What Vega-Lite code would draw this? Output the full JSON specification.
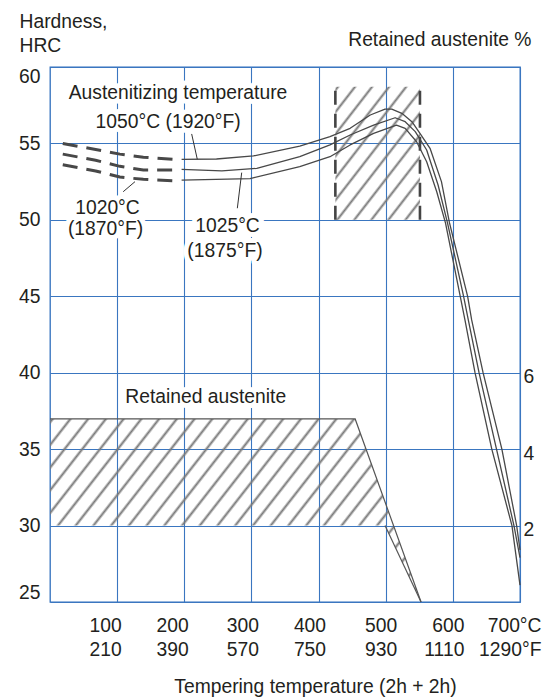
{
  "$schema": "https://vega.github.io/schema/vega-lite/v6.json",
  "width": 470,
  "height": 535,
  "autosize": {"type": "none"},
  "padding": {"left": 50, "top": 67, "right": 25, "bottom": 96},
  "background": "white",
  "config": {
    "view": {"stroke": "#2f6fbd", "strokeWidth": 1.3},
    "font": "Liberation Sans",
    "axis": {
      "labelFont": "Liberation Sans", "titleFont": "Liberation Sans",
      "labelFontSize": 19.3, "titleFontSize": 19.3, "titleFontWeight": "normal",
      "labelColor": "#231f20", "titleColor": "#231f20",
      "domain": false, "ticks": false,
      "gridColor": "#3a76c0", "gridWidth": 1.1, "gridOpacity": 1
    }
  },
  "datasets": {
    "hardness": [
      {"curve": "1050", "seg": "dashed", "t": 19, "h": 55.0},
      {"curve": "1050", "seg": "dashed", "t": 68, "h": 54.6},
      {"curve": "1050", "seg": "dashed", "t": 104, "h": 54.3},
      {"curve": "1050", "seg": "dashed", "t": 139, "h": 54.1},
      {"curve": "1050", "seg": "dashed", "t": 185, "h": 53.96},
      {"curve": "1050", "seg": "solid", "t": 196, "h": 53.96},
      {"curve": "1050", "seg": "solid", "t": 248, "h": 53.98},
      {"curve": "1050", "seg": "solid", "t": 303, "h": 54.18},
      {"curve": "1050", "seg": "solid", "t": 372, "h": 54.83},
      {"curve": "1050", "seg": "solid", "t": 417, "h": 55.44},
      {"curve": "1050", "seg": "solid", "t": 447, "h": 55.99},
      {"curve": "1050", "seg": "solid", "t": 477, "h": 56.86},
      {"curve": "1050", "seg": "solid", "t": 499, "h": 57.25},
      {"curve": "1050", "seg": "solid", "t": 509, "h": 57.25},
      {"curve": "1050", "seg": "solid", "t": 524, "h": 56.97},
      {"curve": "1050", "seg": "solid", "t": 539, "h": 56.42},
      {"curve": "1050", "seg": "solid", "t": 551, "h": 55.66},
      {"curve": "1050", "seg": "solid", "t": 566, "h": 54.68},
      {"curve": "1050", "seg": "solid", "t": 583, "h": 52.5},
      {"curve": "1050", "seg": "solid", "t": 595, "h": 49.8},
      {"curve": "1050", "seg": "solid", "t": 622, "h": 45.0},
      {"curve": "1050", "seg": "solid", "t": 628, "h": 43.45},
      {"curve": "1050", "seg": "solid", "t": 645, "h": 40.0},
      {"curve": "1050", "seg": "solid", "t": 673, "h": 35.0},
      {"curve": "1050", "seg": "solid", "t": 695, "h": 30.0},
      {"curve": "1050", "seg": "solid", "t": 700, "h": 28.4},
      {"curve": "1025", "seg": "dashed", "t": 19, "h": 54.3},
      {"curve": "1025", "seg": "dashed", "t": 68, "h": 53.9},
      {"curve": "1025", "seg": "dashed", "t": 104, "h": 53.5},
      {"curve": "1025", "seg": "dashed", "t": 139, "h": 53.26},
      {"curve": "1025", "seg": "dashed", "t": 185, "h": 53.26},
      {"curve": "1025", "seg": "solid", "t": 196, "h": 53.3},
      {"curve": "1025", "seg": "solid", "t": 256, "h": 53.2},
      {"curve": "1025", "seg": "solid", "t": 308, "h": 53.37},
      {"curve": "1025", "seg": "solid", "t": 372, "h": 54.14},
      {"curve": "1025", "seg": "solid", "t": 417, "h": 54.9},
      {"curve": "1025", "seg": "solid", "t": 447, "h": 55.55},
      {"curve": "1025", "seg": "solid", "t": 482, "h": 56.2},
      {"curve": "1025", "seg": "solid", "t": 514, "h": 56.68},
      {"curve": "1025", "seg": "solid", "t": 529, "h": 56.42},
      {"curve": "1025", "seg": "solid", "t": 544, "h": 55.77},
      {"curve": "1025", "seg": "solid", "t": 561, "h": 54.57},
      {"curve": "1025", "seg": "solid", "t": 578, "h": 52.28},
      {"curve": "1025", "seg": "solid", "t": 592, "h": 49.8},
      {"curve": "1025", "seg": "solid", "t": 616, "h": 45.0},
      {"curve": "1025", "seg": "solid", "t": 623, "h": 43.45},
      {"curve": "1025", "seg": "solid", "t": 639, "h": 40.0},
      {"curve": "1025", "seg": "solid", "t": 665, "h": 35.0},
      {"curve": "1025", "seg": "solid", "t": 691, "h": 30.0},
      {"curve": "1025", "seg": "solid", "t": 700, "h": 27.9},
      {"curve": "1020", "seg": "dashed", "t": 19, "h": 53.6},
      {"curve": "1020", "seg": "dashed", "t": 68, "h": 53.2},
      {"curve": "1020", "seg": "dashed", "t": 104, "h": 52.8},
      {"curve": "1020", "seg": "dashed", "t": 139, "h": 52.65},
      {"curve": "1020", "seg": "dashed", "t": 185, "h": 52.56},
      {"curve": "1020", "seg": "solid", "t": 196, "h": 52.6},
      {"curve": "1020", "seg": "solid", "t": 298, "h": 52.7},
      {"curve": "1020", "seg": "solid", "t": 372, "h": 53.48},
      {"curve": "1020", "seg": "solid", "t": 417, "h": 54.13},
      {"curve": "1020", "seg": "solid", "t": 447, "h": 54.9},
      {"curve": "1020", "seg": "solid", "t": 482, "h": 55.66},
      {"curve": "1020", "seg": "solid", "t": 516, "h": 56.2},
      {"curve": "1020", "seg": "solid", "t": 529, "h": 55.99},
      {"curve": "1020", "seg": "solid", "t": 546, "h": 55.11},
      {"curve": "1020", "seg": "solid", "t": 561, "h": 53.8},
      {"curve": "1020", "seg": "solid", "t": 576, "h": 51.84},
      {"curve": "1020", "seg": "solid", "t": 589, "h": 49.8},
      {"curve": "1020", "seg": "solid", "t": 611, "h": 45.0},
      {"curve": "1020", "seg": "solid", "t": 618, "h": 43.45},
      {"curve": "1020", "seg": "solid", "t": 633, "h": 40.0},
      {"curve": "1020", "seg": "solid", "t": 658, "h": 35.0},
      {"curve": "1020", "seg": "solid", "t": 688, "h": 30.0},
      {"curve": "1020", "seg": "solid", "t": 700, "h": 26.1}
    ],
    "box": [{"t": 425, "t2": 551, "h": 50, "h2": 58.7}],
    "labels": [
      {"t": 190.6, "h": 57.89, "label": "Austenitizing temperature"},
      {"t": 176, "h": 56.0, "label": "1050°C (1920°F)"},
      {"t": 85.6, "h": 50.38, "label": "1020°C"},
      {"t": 82.7, "h": 49.0, "label": "(1870°F)"},
      {"t": 264.4, "h": 49.23, "label": "1025°C"},
      {"t": 260.6, "h": 47.59, "label": "(1875°F)"},
      {"t": 231.9, "h": 38.04, "label": "Retained austenite"}
    ],
    "pointers": [
      {"t": 211, "h": 55.62, "t2": 219.4, "h2": 53.96},
      {"t": 109, "h": 51.84, "t2": 126.6, "h2": 52.5},
      {"t": 279, "h": 50.76, "t2": 285.5, "h2": 53.09}
    ],
    "austenite": [
      {"t": 0, "p": 4.79, "p2": 2},
      {"t": 454.5, "p": 4.79, "p2": 2},
      {"t": 499, "p": 2.6, "p2": 2},
      {"t": 552.6, "p": 0, "p2": 0}
    ],
    "austenite_edges": [
      {"edge": "upper", "t": 0, "p": 4.79},
      {"edge": "upper", "t": 454.5, "p": 4.79},
      {"edge": "upper", "t": 552.6, "p": 0},
      {"edge": "lower", "t": 499, "p": 2},
      {"edge": "lower", "t": 552.6, "p": 0}
    ]
  },
  "layer": [
    {
      "layer": [
        {
          "data": {"name": "austenite"},
          "mark": {
            "type": "area", "line": false,
            "fill": {
              "gradient": "linear", "x1": 0, "y1": 0, "x2": 1.2063, "y2": 0.4651,
              "stops": [
                {"offset": 0, "color": "rgba(120,120,120,0)"}, {"offset": 0.00517, "color": "#787878"}, {"offset": 0.01034, "color": "rgba(120,120,120,0)"},
                {"offset": 0.03448, "color": "rgba(120,120,120,0)"}, {"offset": 0.03965, "color": "#787878"}, {"offset": 0.04482, "color": "rgba(120,120,120,0)"},
                {"offset": 0.06897, "color": "rgba(120,120,120,0)"}, {"offset": 0.07414, "color": "#787878"}, {"offset": 0.07931, "color": "rgba(120,120,120,0)"},
                {"offset": 0.10345, "color": "rgba(120,120,120,0)"}, {"offset": 0.10862, "color": "#787878"}, {"offset": 0.11379, "color": "rgba(120,120,120,0)"},
                {"offset": 0.13793, "color": "rgba(120,120,120,0)"}, {"offset": 0.1431, "color": "#787878"}, {"offset": 0.14827, "color": "rgba(120,120,120,0)"},
                {"offset": 0.17241, "color": "rgba(120,120,120,0)"}, {"offset": 0.17758, "color": "#787878"}, {"offset": 0.18275, "color": "rgba(120,120,120,0)"},
                {"offset": 0.2069, "color": "rgba(120,120,120,0)"}, {"offset": 0.21207, "color": "#787878"}, {"offset": 0.21724, "color": "rgba(120,120,120,0)"},
                {"offset": 0.24138, "color": "rgba(120,120,120,0)"}, {"offset": 0.24655, "color": "#787878"}, {"offset": 0.25172, "color": "rgba(120,120,120,0)"},
                {"offset": 0.27586, "color": "rgba(120,120,120,0)"}, {"offset": 0.28103, "color": "#787878"}, {"offset": 0.2862, "color": "rgba(120,120,120,0)"},
                {"offset": 0.31034, "color": "rgba(120,120,120,0)"}, {"offset": 0.31551, "color": "#787878"}, {"offset": 0.32068, "color": "rgba(120,120,120,0)"},
                {"offset": 0.34483, "color": "rgba(120,120,120,0)"}, {"offset": 0.35, "color": "#787878"}, {"offset": 0.35517, "color": "rgba(120,120,120,0)"},
                {"offset": 0.37931, "color": "rgba(120,120,120,0)"}, {"offset": 0.38448, "color": "#787878"}, {"offset": 0.38965, "color": "rgba(120,120,120,0)"},
                {"offset": 0.41379, "color": "rgba(120,120,120,0)"}, {"offset": 0.41896, "color": "#787878"}, {"offset": 0.42413, "color": "rgba(120,120,120,0)"},
                {"offset": 0.44828, "color": "rgba(120,120,120,0)"}, {"offset": 0.45345, "color": "#787878"}, {"offset": 0.45862, "color": "rgba(120,120,120,0)"},
                {"offset": 0.48276, "color": "rgba(120,120,120,0)"}, {"offset": 0.48793, "color": "#787878"}, {"offset": 0.4931, "color": "rgba(120,120,120,0)"},
                {"offset": 0.51724, "color": "rgba(120,120,120,0)"}, {"offset": 0.52241, "color": "#787878"}, {"offset": 0.52758, "color": "rgba(120,120,120,0)"},
                {"offset": 0.55172, "color": "rgba(120,120,120,0)"}, {"offset": 0.55689, "color": "#787878"}, {"offset": 0.56206, "color": "rgba(120,120,120,0)"},
                {"offset": 0.58621, "color": "rgba(120,120,120,0)"}, {"offset": 0.59138, "color": "#787878"}, {"offset": 0.59655, "color": "rgba(120,120,120,0)"},
                {"offset": 0.62069, "color": "rgba(120,120,120,0)"}, {"offset": 0.62586, "color": "#787878"}, {"offset": 0.63103, "color": "rgba(120,120,120,0)"},
                {"offset": 0.65517, "color": "rgba(120,120,120,0)"}, {"offset": 0.66034, "color": "#787878"}, {"offset": 0.66551, "color": "rgba(120,120,120,0)"},
                {"offset": 0.68966, "color": "rgba(120,120,120,0)"}, {"offset": 0.69483, "color": "#787878"}, {"offset": 0.7, "color": "rgba(120,120,120,0)"},
                {"offset": 0.72414, "color": "rgba(120,120,120,0)"}, {"offset": 0.72931, "color": "#787878"}, {"offset": 0.73448, "color": "rgba(120,120,120,0)"},
                {"offset": 0.75862, "color": "rgba(120,120,120,0)"}, {"offset": 0.76379, "color": "#787878"}, {"offset": 0.76896, "color": "rgba(120,120,120,0)"},
                {"offset": 0.7931, "color": "rgba(120,120,120,0)"}, {"offset": 0.79827, "color": "#787878"}, {"offset": 0.80344, "color": "rgba(120,120,120,0)"},
                {"offset": 0.82759, "color": "rgba(120,120,120,0)"}, {"offset": 0.83276, "color": "#787878"}, {"offset": 0.83793, "color": "rgba(120,120,120,0)"},
                {"offset": 0.86207, "color": "rgba(120,120,120,0)"}, {"offset": 0.86724, "color": "#787878"}, {"offset": 0.87241, "color": "rgba(120,120,120,0)"},
                {"offset": 0.89655, "color": "rgba(120,120,120,0)"}, {"offset": 0.90172, "color": "#787878"}, {"offset": 0.90689, "color": "rgba(120,120,120,0)"},
                {"offset": 0.93103, "color": "rgba(120,120,120,0)"}, {"offset": 0.9362, "color": "#787878"}, {"offset": 0.94137, "color": "rgba(120,120,120,0)"},
                {"offset": 0.96552, "color": "rgba(120,120,120,0)"}, {"offset": 0.97069, "color": "#787878"}, {"offset": 0.97586, "color": "rgba(120,120,120,0)"},
                {"offset": 1, "color": "rgba(120,120,120,0)"}
              ]
            }
          },
          "encoding": {
            "x": {"field": "t", "type": "quantitative"},
            "y": {
              "field": "p", "type": "quantitative",
              "scale": {"domain": [0, 14], "nice": false, "zero": false},
              "axis": {
                "orient": "right", "values": [2, 4, 6], "grid": false,
                "title": "Retained austenite %", "titleAngle": 0, "titleAlign": "right",
                "titleBaseline": "alphabetic", "titleX": 11, "titleY": -22,
                "labelPadding": 3, "labelAlign": "left", "labelOffset": 4, "labelFlush": false
              }
            },
            "y2": {"field": "p2"}
          }
        },
        {
          "data": {"name": "austenite_edges"},
          "mark": {"type": "line", "stroke": "#555555", "strokeWidth": 1.2},
          "encoding": {
            "x": {"field": "t", "type": "quantitative"},
            "y": {"field": "p", "type": "quantitative"},
            "detail": {"field": "edge"}
          }
        }
      ]
    },
    {
      "layer": [
        {
          "data": {"name": "box"},
          "mark": {
            "type": "rect",
            "fill": {
              "gradient": "linear", "x1": 0, "y1": 0, "x2": 0.8933, "y2": 1.0876,
              "stops": [
                {"offset": 0, "color": "rgba(120,120,120,0)"}, {"offset": 0.01364, "color": "#787878"}, {"offset": 0.02727, "color": "rgba(120,120,120,0)"},
                {"offset": 0.09091, "color": "rgba(120,120,120,0)"}, {"offset": 0.10455, "color": "#787878"}, {"offset": 0.11818, "color": "rgba(120,120,120,0)"},
                {"offset": 0.18182, "color": "rgba(120,120,120,0)"}, {"offset": 0.19546, "color": "#787878"}, {"offset": 0.20909, "color": "rgba(120,120,120,0)"},
                {"offset": 0.27273, "color": "rgba(120,120,120,0)"}, {"offset": 0.28637, "color": "#787878"}, {"offset": 0.3, "color": "rgba(120,120,120,0)"},
                {"offset": 0.36364, "color": "rgba(120,120,120,0)"}, {"offset": 0.37728, "color": "#787878"}, {"offset": 0.39091, "color": "rgba(120,120,120,0)"},
                {"offset": 0.45455, "color": "rgba(120,120,120,0)"}, {"offset": 0.46819, "color": "#787878"}, {"offset": 0.48182, "color": "rgba(120,120,120,0)"},
                {"offset": 0.54545, "color": "rgba(120,120,120,0)"}, {"offset": 0.55909, "color": "#787878"}, {"offset": 0.57272, "color": "rgba(120,120,120,0)"},
                {"offset": 0.63636, "color": "rgba(120,120,120,0)"}, {"offset": 0.65, "color": "#787878"}, {"offset": 0.66363, "color": "rgba(120,120,120,0)"},
                {"offset": 0.72727, "color": "rgba(120,120,120,0)"}, {"offset": 0.74091, "color": "#787878"}, {"offset": 0.75454, "color": "rgba(120,120,120,0)"},
                {"offset": 0.81818, "color": "rgba(120,120,120,0)"}, {"offset": 0.83182, "color": "#787878"}, {"offset": 0.84545, "color": "rgba(120,120,120,0)"},
                {"offset": 0.90909, "color": "rgba(120,120,120,0)"}, {"offset": 0.92273, "color": "#787878"}, {"offset": 0.93636, "color": "rgba(120,120,120,0)"},
                {"offset": 1, "color": "rgba(120,120,120,0)"}
              ]
            }
          },
          "encoding": {
            "x": {
              "field": "t", "type": "quantitative",
              "scale": {"domain": [0, 700], "nice": false, "zero": false},
              "axis": {
                "values": [100, 200, 300, 400, 500, 600, 700],
                "title": "Tempering temperature (2h + 2h)",
                "titleX": 265, "titleY": 90, "titleAlign": "center", "titleBaseline": "alphabetic",
                "labelAlign": "right", "labelBaseline": "alphabetic", "labelPadding": 29,
                "labelLineHeight": 24.3, "labelFlush": false, "labelOverlap": false, "grid": true,
                "labelOffset": {"condition": [{"test": "datum.value <= 200", "value": 4}, {"test": "datum.value == 700", "value": 21}, {"test": "datum.value >= 500", "value": 11}], "value": 7},
                "labelExpr": "[datum.value == 700 ? '700°C' : datum.label, datum.value == 100 ? '210' : datum.value == 200 ? '390' : datum.value == 300 ? '570' : datum.value == 400 ? '750' : datum.value == 500 ? '930' : datum.value == 600 ? '1110' : '1290°F']"
              }
            },
            "x2": {"field": "t2"},
            "y": {
              "field": "h", "type": "quantitative",
              "scale": {"domain": [25, 60], "nice": false, "zero": false},
              "axis": {
                "orient": "left", "values": [25, 30, 35, 40, 45, 50, 55, 60], "grid": true,
                "title": ["Hardness,", "HRC"], "titleAngle": 0, "titleAlign": "left",
                "titleBaseline": "alphabetic", "titleX": -31, "titleY": -40, "titleLineHeight": 24,
                "labelPadding": 10, "labelFlush": true, "labelOverlap": false
              }
            },
            "y2": {"field": "h2"}
          }
        },
        {
          "data": {"name": "box"},
          "mark": {"type": "rule", "stroke": "#444444", "strokeWidth": 2.6, "strokeDash": [14, 9]},
          "encoding": {
            "x": {"field": "t", "type": "quantitative"},
            "y": {"field": "h", "type": "quantitative"},
            "y2": {"field": "h2"}
          }
        },
        {
          "data": {"name": "box"},
          "mark": {"type": "rule", "stroke": "#444444", "strokeWidth": 2.6, "strokeDash": [14, 9]},
          "encoding": {
            "x": {"field": "t2", "type": "quantitative"},
            "y": {"field": "h", "type": "quantitative"},
            "y2": {"field": "h2"}
          }
        },
        {
          "data": {"name": "labels"},
          "mark": {"type": "text", "font": "Liberation Sans", "fontSize": 19.3, "align": "center", "baseline": "alphabetic", "fill": "white", "stroke": "white", "strokeWidth": 10, "strokeJoin": "round"},
          "encoding": {
            "x": {"field": "t", "type": "quantitative"},
            "y": {"field": "h", "type": "quantitative"},
            "text": {"field": "label"}
          }
        },
        {
          "data": {"name": "hardness"},
          "transform": [{"filter": "datum.seg == 'solid'"}],
          "mark": {"type": "line", "stroke": "#484848", "strokeWidth": 1.3, "interpolate": "linear", "strokeJoin": "round"},
          "encoding": {
            "x": {"field": "t", "type": "quantitative"},
            "y": {"field": "h", "type": "quantitative"},
            "detail": {"field": "curve"}
          }
        },
        {
          "data": {"name": "hardness"},
          "transform": [{"filter": "datum.seg == 'dashed'"}],
          "mark": {"type": "line", "stroke": "#484848", "strokeWidth": 3, "strokeDash": [15, 9]},
          "encoding": {
            "x": {"field": "t", "type": "quantitative"},
            "y": {"field": "h", "type": "quantitative"},
            "detail": {"field": "curve"}
          }
        },
        {
          "data": {"name": "pointers"},
          "mark": {"type": "rule", "stroke": "#333333", "strokeWidth": 1},
          "encoding": {
            "x": {"field": "t", "type": "quantitative"},
            "y": {"field": "h", "type": "quantitative"},
            "x2": {"field": "t2"},
            "y2": {"field": "h2"}
          }
        },
        {
          "data": {"name": "labels"},
          "mark": {"type": "text", "font": "Liberation Sans", "fontSize": 19.3, "align": "center", "baseline": "alphabetic", "fill": "#231f20"},
          "encoding": {
            "x": {"field": "t", "type": "quantitative"},
            "y": {"field": "h", "type": "quantitative"},
            "text": {"field": "label"}
          }
        }
      ]
    }
  ],
  "resolve": {"scale": {"y": "independent"}}
}
